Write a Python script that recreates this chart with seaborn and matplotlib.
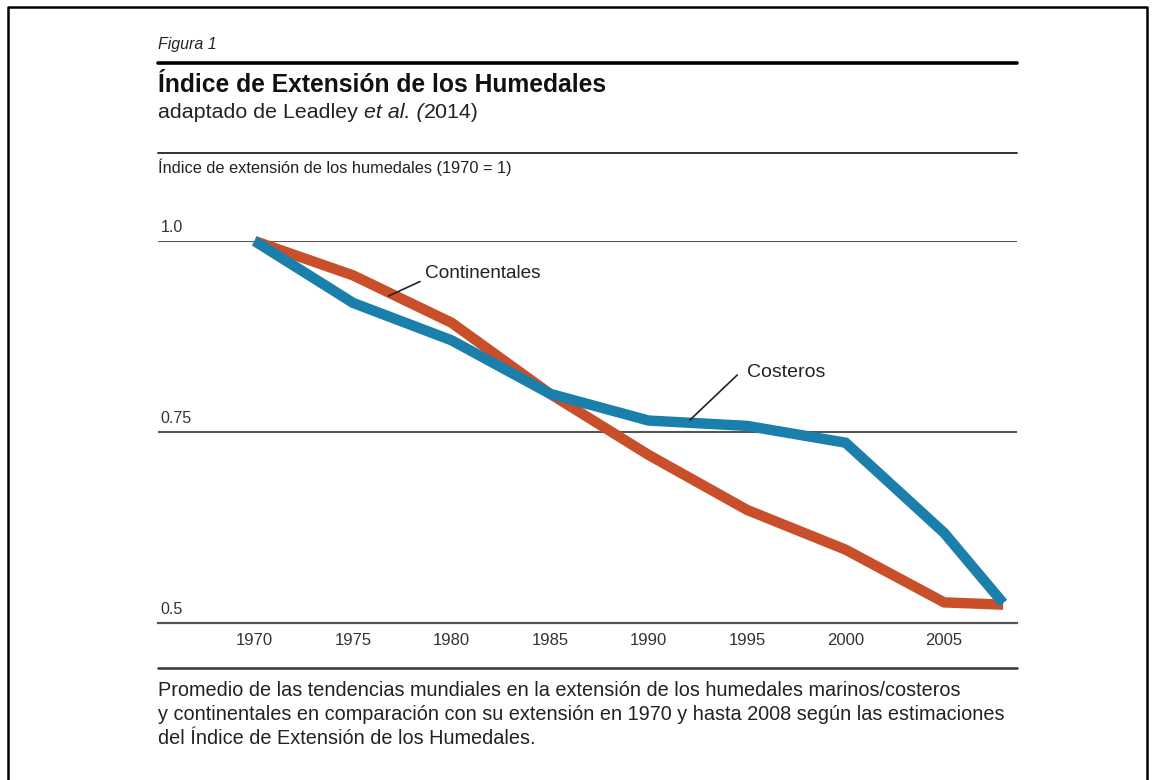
import matplotlib
matplotlib.use("Agg")
import matplotlib.pyplot as plt
import seaborn as sns
import pandas as pd
from matplotlib.lines import Line2D

# data
years = [1970, 1975, 1980, 1985, 1990, 1995, 2000, 2005, 2008]
continentales = [1.0, 0.955, 0.893, 0.80, 0.72, 0.648, 0.596, 0.527, 0.524]
costeros = [1.0, 0.919, 0.870, 0.80, 0.765, 0.758, 0.736, 0.618, 0.526]
xticks = [1970, 1975, 1980, 1985, 1990, 1995, 2000, 2005]
ygrid = [0.5, 0.75, 1.0]
ylabels = ["0.5", "0.75", "1.0"]

df = pd.DataFrame({"year": years * 2,
                   "value": continentales + costeros,
                   "serie": ["Continentales"] * len(years) + ["Costeros"] * len(years)})

sns.set_style("white")
plt.rcParams['font.family'] = ['Liberation Sans', 'DejaVu Sans']

W, H = 1155, 780
fig = plt.figure(figsize=(W / 100, H / 100), dpi=100)

def fx(px):
    return px / W

def fy(py):
    return 1 - py / H

# axes: 0.5 at y=623 px, 1.0 at y=241 px, from x=158 to 1017
ax = fig.add_axes([fx(158), fy(623), fx(1017 - 158), (623 - 241) / H])
sns.lineplot(data=df, x="year", y="value", hue="serie",
             palette={"Continentales": "#c94f2b", "Costeros": "#1b7fab"},
             hue_order=["Continentales", "Costeros"],
             linewidth=7.5, legend=False, ax=ax, zorder=3)
for line in ax.lines:
    line.set_clip_on(False)
    line.set_solid_joinstyle("miter")
    line.set_solid_capstyle("butt")

ax.set_xlim(1965.1, 2008.7)
ax.set_ylim(0.5, 1.0)
for s in ["top", "left", "right"]:
    ax.spines[s].set_visible(False)
ax.spines["bottom"].set_color("#555555")
ax.spines["bottom"].set_linewidth(1.6)
for v in ygrid[1:]:
    ax.axhline(v, color="#555555", lw=1.5, zorder=1)

ax.set_yticks([])
ax.set_xticks(xticks)
ax.set_xticklabels([str(t) for t in xticks], fontsize=12, color="#333333")
ax.tick_params(axis="x", direction="in", length=11, width=1.2, color="#333333", pad=7)
ax.set_xlabel("")
ax.set_ylabel("")

for v, lab in zip(ygrid, ylabels):
    ax.text(0.003, v + 0.008, lab, transform=ax.get_yaxis_transform(),
            ha="left", va="bottom", fontsize=11.5, color="#333333")

# series labels with leader lines
ax.annotate("", xy=(1976.8, 0.928), xytext=(1978.4, 0.947),
            arrowprops=dict(arrowstyle="-", color="#222222", lw=1.2, shrinkA=0, shrinkB=0))
ax.text(1978.65, 0.957, "Continentales", fontsize=13.7, va="center", ha="left", color="#222222")
ax.annotate("", xy=(1992.1, 0.7657), xytext=(1994.5, 0.8246),
            arrowprops=dict(arrowstyle="-", color="#222222", lw=1.2, shrinkA=0, shrinkB=0))
ax.text(1995.0, 0.8285, "Costeros", fontsize=14, va="center", ha="left", color="#222222")

# header
fig.text(fx(158), fy(45), "Figura 1", fontsize=11.5, style="italic", va="center", color="#222222")
fig.add_artist(Line2D([fx(158), fx(1017)], [fy(63), fy(63)], color="black", lw=2.6))
fig.text(fx(158), fy(85), "Índice de Extensión de los Humedales", fontsize=17.7,
         weight="bold", va="center", color="#111111")

# subtitle in pieces (italic "et al.")
fig.canvas.draw()
r = fig.canvas.get_renderer()
xpos = 158
for part, st in [("adaptado de Leadley ", "normal"), ("et al. (", "italic"), ("2014)", "normal")]:
    t = fig.text(fx(xpos), fy(113), part, fontsize=15.4, style=st, va="center", color="#222222")
    xpos += t.get_window_extent(renderer=r).width

fig.add_artist(Line2D([fx(158), fx(1017)], [fy(153), fy(153)], color="#222222", lw=1.3))
fig.text(fx(158), fy(167), "Índice de extensión de los humedales (1970 = 1)", fontsize=11.8,
         va="center", color="#222222")

# footer
fig.add_artist(Line2D([fx(158), fx(1017)], [fy(668), fy(668)], color="#333333", lw=1.8))
caption = ["Promedio de las tendencias mundiales en la extensión de los humedales marinos/costeros",
           "y continentales en comparación con su extensión en 1970 y hasta 2008 según las estimaciones",
           "del Índice de Extensión de los Humedales."]
for i, c in enumerate(caption):
    fig.text(fx(158), fy(691 + i * 23.5), c, fontsize=14.3, va="center", color="#222222")

# frame (left, top, right)
fig.add_artist(Line2D([fx(8), fx(8), fx(1147), fx(1147)], [0, fy(7), fy(7), 0],
                      color="black", lw=1.8))

fig.savefig("out.png", dpi=100)
